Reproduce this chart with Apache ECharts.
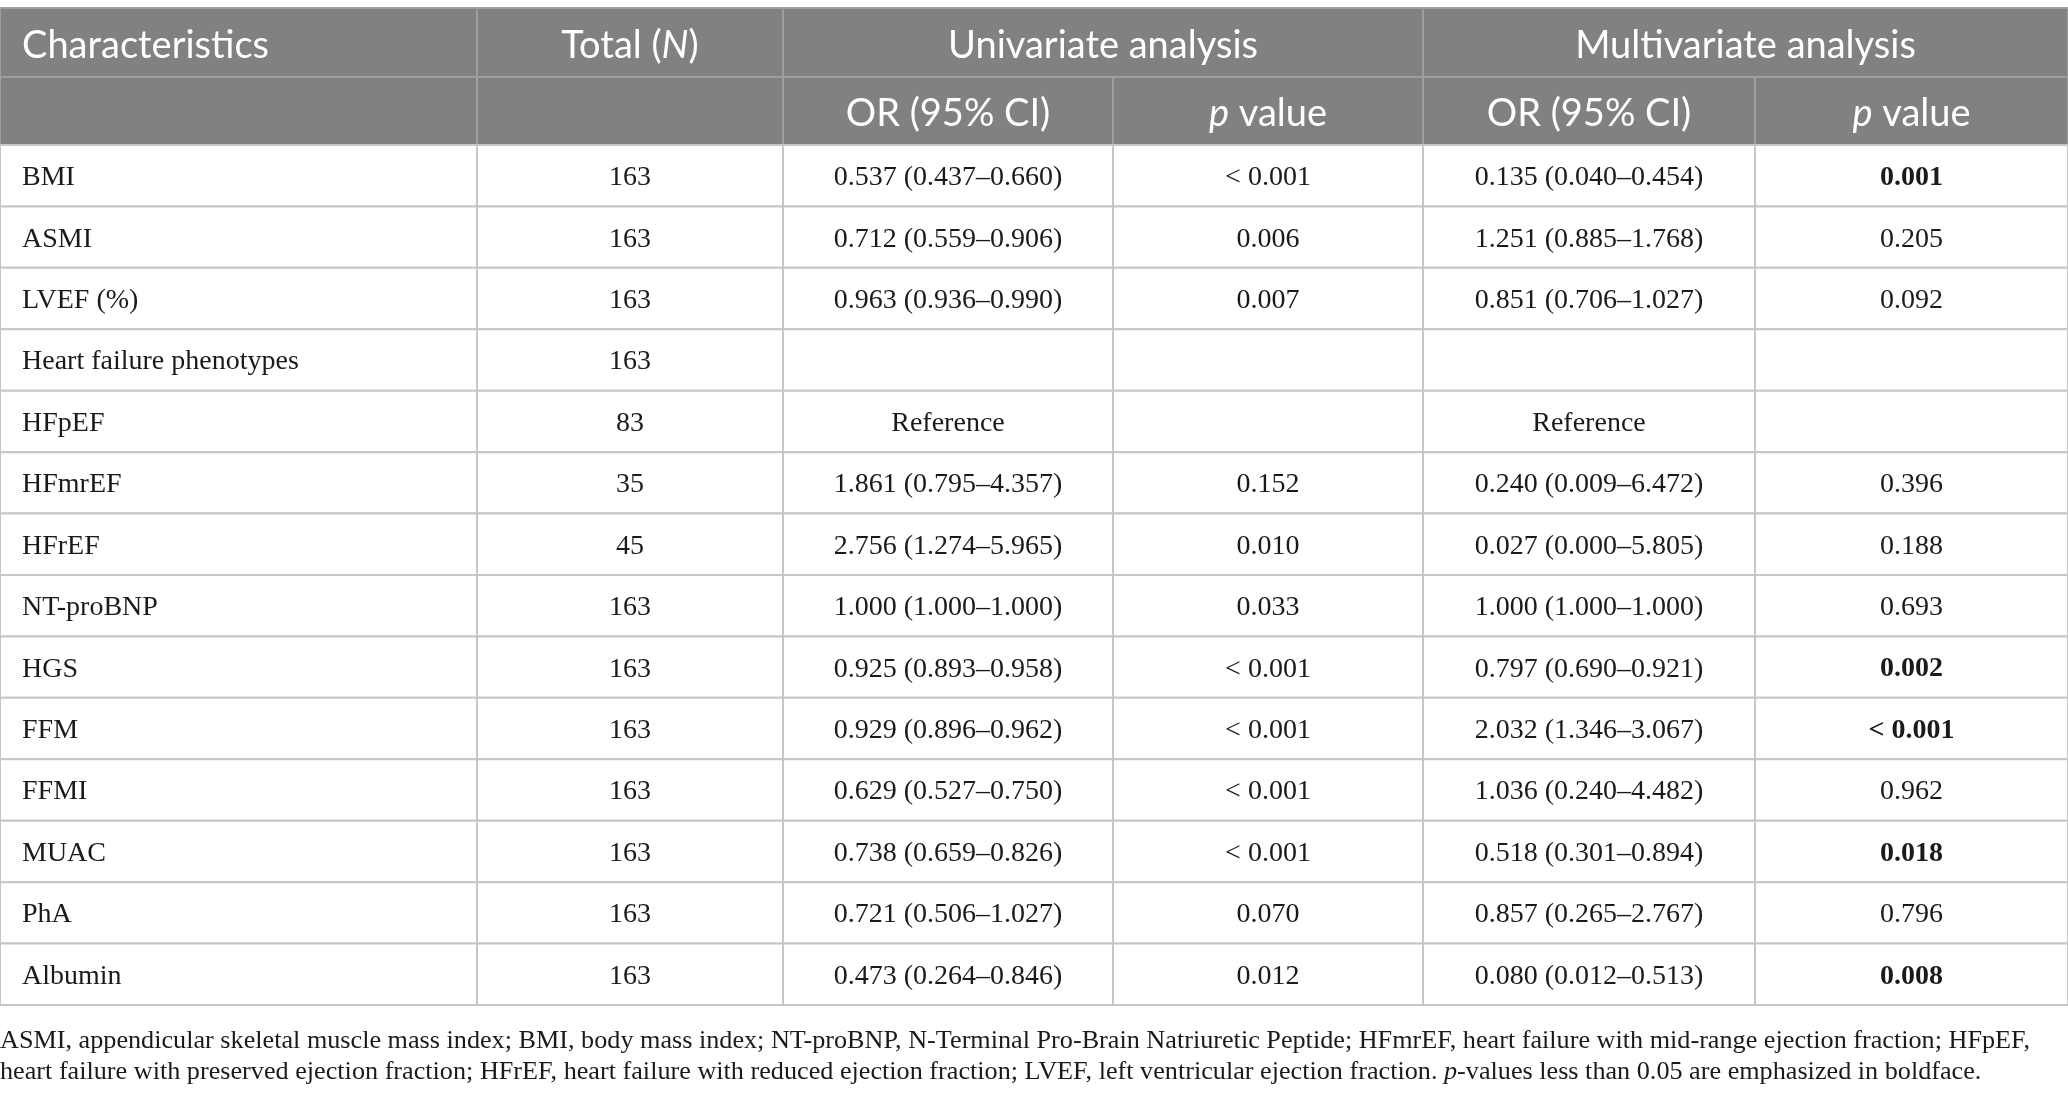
<!DOCTYPE html>
<html>
<head>
<meta charset="utf-8">
<script src="https://cdn.jsdelivr.net/npm/echarts@6/dist/echarts.min.js"></script>
<style>
  html, body { margin: 0; padding: 0; background: #fff; }
  #chart { width: 2068px; height: 1098px; }
</style>
</head>
<body>
<div id="chart"></div>
<script>
// table content
var headerTop = ['Characteristics', 'Total ({i|N})', 'Univariate analysis', 'Multivariate analysis'];
var headerSub = ['', '', 'OR (95% CI)', '{i|p} value', 'OR (95% CI)', '{i|p} value'];

var characteristics = ['BMI', 'ASMI', 'LVEF (%)', 'Heart failure phenotypes', 'HFpEF', 'HFmrEF', 'HFrEF',
    'NT-proBNP', 'HGS', 'FFM', 'FFMI', 'MUAC', 'PhA', 'Albumin'];
var totalN = [163, 163, 163, 163, 83, 35, 45, 163, 163, 163, 163, 163, 163, 163];
var uniOR = ['0.537 (0.437–0.660)', '0.712 (0.559–0.906)', '0.963 (0.936–0.990)', '', 'Reference',
    '1.861 (0.795–4.357)', '2.756 (1.274–5.965)', '1.000 (1.000–1.000)', '0.925 (0.893–0.958)',
    '0.929 (0.896–0.962)', '0.629 (0.527–0.750)', '0.738 (0.659–0.826)', '0.721 (0.506–1.027)',
    '0.473 (0.264–0.846)'];
var uniP = ['< 0.001', '0.006', '0.007', '', '', '0.152', '0.010', '0.033', '< 0.001', '< 0.001',
    '< 0.001', '< 0.001', '0.070', '0.012'];
var multiOR = ['0.135 (0.040–0.454)', '1.251 (0.885–1.768)', '0.851 (0.706–1.027)', '', 'Reference',
    '0.240 (0.009–6.472)', '0.027 (0.000–5.805)', '1.000 (1.000–1.000)', '0.797 (0.690–0.921)',
    '2.032 (1.346–3.067)', '1.036 (0.240–4.482)', '0.518 (0.301–0.894)', '0.857 (0.265–2.767)',
    '0.080 (0.012–0.513)'];
var multiP = ['0.001', '0.205', '0.092', '', '', '0.396', '0.188', '0.693', '0.002', '< 0.001',
    '0.962', '0.018', '0.796', '0.008'];

var footnote = [
    'ASMI, appendicular skeletal muscle mass index; BMI, body mass index; NT-proBNP, N-Terminal Pro-Brain Natriuretic Peptide; HFmrEF, heart failure with mid-range ejection fraction; HFpEF,',
    'heart failure with preserved ejection fraction; HFrEF, heart failure with reduced ejection fraction; LVEF, left ventricular ejection fraction. {i|p}-values less than 0.05 are emphasized in boldface.'
];

// layout
var colWidths = [477, 306, 330, 310, 332, 313];
var headerHeights = [69, 68];
var bodyRowHeight = 61.43;

var colEdges = [0];
colWidths.forEach(function (w, i) { colEdges.push(colEdges[i] + w); });
var rowHeights = headerHeights.concat(characteristics.map(function () { return bodyRowHeight; }));
var rowEdges = [0];
rowHeights.forEach(function (h, i) { rowEdges.push(rowEdges[i] + h); });

var headFont = 'Lato';
var bodyFont = 'Liberation Serif';

function isSignificant(p) {
    if (p.indexOf('<') === 0) return true;
    return p !== '' && parseFloat(p) < 0.05;
}

// cells: [colStart, colEnd, row, text, kind, bold]
var cells = [];
cells.push([0, 1, 0, headerTop[0], 'headLeft', 0]);
cells.push([1, 2, 0, headerTop[1], 'head', 0]);
cells.push([2, 4, 0, headerTop[2], 'head', 0]);
cells.push([4, 6, 0, headerTop[3], 'head', 0]);
headerSub.forEach(function (t, c) { cells.push([c, c + 1, 1, t, 'head', 0]); });
characteristics.forEach(function (name, i) {
    var r = i + 2;
    cells.push([0, 1, r, name, 'bodyLeft', 0]);
    cells.push([1, 2, r, String(totalN[i]), 'body', 0]);
    cells.push([2, 3, r, uniOR[i], 'body', 0]);
    cells.push([3, 4, r, uniP[i], 'body', 0]);
    cells.push([4, 5, r, multiOR[i], 'body', 0]);
    cells.push([5, 6, r, multiP[i], 'body', isSignificant(multiP[i]) ? 1 : 0]);
});

function renderCell(params, api) {
    var c0 = api.value(0), c1 = api.value(1), r = api.value(2);
    var kind = cells[params.dataIndex][4];
    var text = cells[params.dataIndex][3];
    var bold = api.value(5);
    var p0 = api.coord([colEdges[c0], rowEdges[r]]);
    var p1 = api.coord([colEdges[c1], rowEdges[r + 1]]);
    var isHead = kind.indexOf('head') === 0;
    var left = kind.indexOf('Left') > 0;
    var fontSize = isHead ? 38 : 28;
    var family = isHead ? headFont : bodyFont;
    var color = isHead ? '#ffffff' : '#1a1a1a';
    return {
        type: 'group',
        children: [{
            type: 'rect',
            shape: { x: p0[0], y: p0[1], width: p1[0] - p0[0], height: p1[1] - p0[1] },
            style: {
                fill: isHead ? '#808180' : '#ffffff',
                stroke: isHead ? '#9d9e9d' : '#c6c6c6',
                lineWidth: 2
            }
        }, {
            type: 'text',
            x: left ? p0[0] + 22 : (p0[0] + p1[0]) / 2,
            y: (p0[1] + p1[1]) / 2 + (isHead ? 3 : 2),
            style: {
                text: text,
                fill: color,
                font: (bold ? 'bold ' : '') + fontSize + 'px "' + family + '"',
                align: left ? 'left' : 'center',
                verticalAlign: 'middle',
                rich: {
                    i: { fontStyle: 'italic', fontSize: fontSize, fontFamily: family, fill: color }
                }
            }
        }]
    };
}

var chart = echarts.init(document.getElementById('chart'));
chart.setOption({
    animation: false,
    grid: { left: 0, right: 0, top: 8, height: rowEdges[rowEdges.length - 1] },
    xAxis: { type: 'value', min: 0, max: colEdges[colEdges.length - 1], show: false },
    yAxis: { type: 'value', min: 0, max: rowEdges[rowEdges.length - 1], inverse: true, show: false },
    series: [{
        type: 'custom',
        silent: true,
        renderItem: renderCell,
        encode: { x: [0, 1], y: 2 },
        data: cells.map(function (c) { return [c[0], c[1], c[2], 0, 0, c[5]]; })
    }],
    graphic: [{
        type: 'text',
        left: 0,
        top: 1025,
        silent: true,
        style: {
            text: footnote.join('\n'),
            font: '26.2px "Liberation Serif"',
            fill: '#1a1a1a',
            lineHeight: 31.5,
            rich: {
                i: { fontStyle: 'italic', fontSize: 26.2, fontFamily: 'Liberation Serif', fill: '#1a1a1a', lineHeight: 31.5 }
            }
        }
    }]
});
</script>
</body>
</html>
